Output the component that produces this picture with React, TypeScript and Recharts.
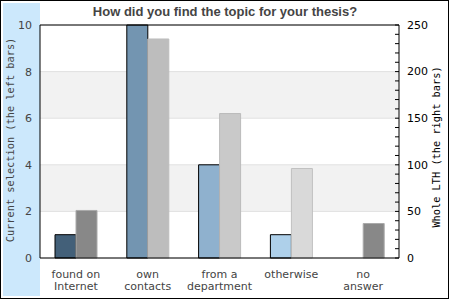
import React from 'react';
import { BarChart, Bar, XAxis, YAxis, CartesianGrid, ReferenceLine, Cell } from 'recharts';

const categories = ['found on\nInternet', 'own\ncontacts', 'from a\ndepartment', 'otherwise', 'no\nanswer'];
const currentSelection = [1, 10, 4, 1, 0];
const wholeLTH = [51, 235, 155, 96, 37];
const leftTicks = [0, 2, 4, 6, 8, 10];
const rightTicks = [0, 10, 20, 30, 40, 50, 60, 70, 80, 90, 100, 110, 120, 130, 140, 150, 160, 170, 180, 190, 200, 210, 220, 230, 240, 250];
const rightLabelTicks = [0, 50, 100, 150, 200, 250];

const leftFills = ['#436079', '#7395b1', '#8fb1ce', '#aed0ea', '#aed0ea'];
const rightFills = ['#888888', '#bdbdbd', '#c9c9c9', '#d9d9d9', '#888888'];
const rightStrokes = ['#aaaaaa', '#bdbdbd', '#bbbbbb', '#c0c0c0', '#aaaaaa'];

const data = categories.map((name, i) => ({ name, current: currentSelection[i], whole: wholeLTH[i] }));

const SANS = '"DejaVu Sans", sans-serif';
const MONO = '"DejaVu Sans Mono", monospace';
const RIGHT_MARGIN = 8;

const CategoryTick = (props: any) => {
  const { x, y, payload } = props;
  const lines = String(payload.value).split('\n');
  return (
    <text x={x} y={y} textAnchor="middle" fill="#444" fontSize={11} fontFamily={SANS}>
      {lines.map((l, i) => (
        <tspan key={i} x={x} y={y + 20 + i * 12}>{l}</tspan>
      ))}
    </text>
  );
};

const RightTick = (props: any) => {
  const { x, y, payload } = props;
  const ax = x - RIGHT_MARGIN;
  const show = rightLabelTicks.includes(payload.value);
  return (
    <g>
      <line x1={ax - 4} x2={ax} y1={y} y2={y} stroke="#000" strokeWidth={1} />
      {show && (
        <text x={x} y={y} dy="0.35em" textAnchor="start" fill="#000" fontSize={11} fontFamily={SANS}>
          {payload.value}
        </text>
      )}
    </g>
  );
};

export default function App() {
  return (
    <div style={{ position: 'absolute', left: 0, top: 0, width: 450, height: 300 }}>
      <svg width={450} height={300} style={{ position: 'absolute', left: 0, top: 0 }}>
        <rect x={0} y={0} width={450} height={300} fill="#ffffff" />
        <rect x={0.5} y={0.5} width={448} height={298} fill="none" stroke="#000" strokeWidth={1} />
        <rect x={3} y={3} width={37} height={293} fill="#cce8fc" />
        <text x={225} y={16} textAnchor="middle" fontFamily='"Liberation Sans", Arial, sans-serif' fontWeight="bold" fontSize={13} fill="#444">
          How did you find the topic for your thesis?
        </text>
        <text
          x={9.5}
          y={140}
          transform="rotate(-90, 9.5, 140)"
          textAnchor="middle"
          dominantBaseline="central"
          fontFamily={MONO}
          fontSize={10.3}
          fill="#444"
        >
          Current selection (the left bars)
        </text>
        <text
          x={436}
          y={147}
          transform="rotate(-90, 436, 147)"
          textAnchor="middle"
          dominantBaseline="central"
          fontFamily={MONO}
          fontSize={10.3}
          fill="#000"
        >
          Whole LTH (the right bars)
        </text>
      </svg>
      <div style={{ position: 'absolute', left: 0, top: 0 }}>
        <BarChart width={450} height={300} data={data} margin={{ top: 25, right: 0, bottom: 0, left: 0 }} barGap={0} barSize={21}>
          <CartesianGrid
            yAxisId="left"
            vertical={false}
            stroke="#e0e0e0"
            horizontalFill={['#ffffff', '#f2f2f2']}
            fillOpacity={1}
          />
          <XAxis
            dataKey="name"
            interval={0}
            height={42}
            axisLine={{ stroke: '#000', strokeWidth: 1 }}
            tickLine={false}
            tickSize={0}
            tickMargin={0}
            tick={<CategoryTick />}
          />
          <YAxis
            yAxisId="left"
            orientation="left"
            width={40}
            domain={[0, 10]}
            ticks={leftTicks}
            axisLine={{ stroke: '#000', strokeWidth: 1 }}
            tickLine={false}
            tickSize={0}
            tickMargin={8}
            tick={{ fill: '#444', fontSize: 11, fontFamily: SANS }}
          />
          <YAxis
            yAxisId="right"
            orientation="right"
            width={51}
            domain={[0, 250]}
            ticks={rightTicks}
            interval={0}
            axisLine={{ stroke: '#000', strokeWidth: 1 }}
            tickLine={false}
            tickSize={0}
            tickMargin={RIGHT_MARGIN}
            tick={<RightTick />}
          />
          <ReferenceLine yAxisId="left" y={10} stroke="#000" strokeWidth={1} />
          <Bar dataKey="current" yAxisId="left" stroke="#000" strokeWidth={1} isAnimationActive={false}>
            {data.map((d, i) => (
              <Cell key={i} fill={leftFills[i]} />
            ))}
          </Bar>
          <Bar dataKey="whole" yAxisId="right" strokeWidth={1} isAnimationActive={false}>
            {data.map((d, i) => (
              <Cell key={i} fill={rightFills[i]} stroke={rightStrokes[i]} />
            ))}
          </Bar>
        </BarChart>
      </div>
    </div>
  );
}
